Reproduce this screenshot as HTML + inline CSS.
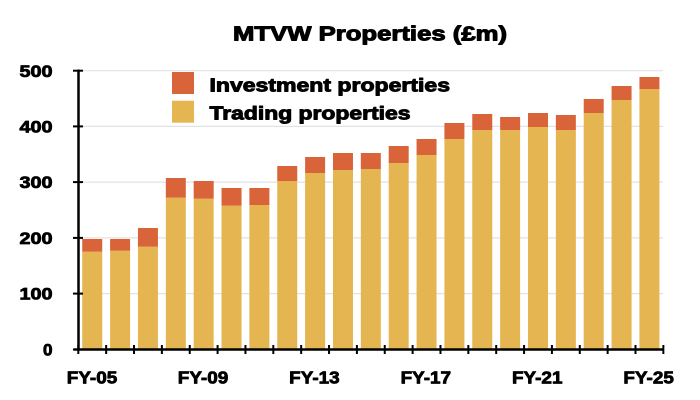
<!DOCTYPE html>
<html><head><meta charset="utf-8">
<style>
html,body{margin:0;padding:0;background:#fff;}
svg{display:block;}
text{font-family:"Liberation Sans",Arial,sans-serif;font-weight:bold;fill:#000;stroke:#000;stroke-width:0.8px;stroke-linejoin:round;}
</style></head>
<body>
<svg width="700" height="400" viewBox="0 0 700 400" xmlns="http://www.w3.org/2000/svg">
<rect width="700" height="400" fill="#fff"/>
<!-- gridlines -->
<g stroke="#e2e2e2" stroke-width="1.2">
<line x1="78" y1="70.7" x2="663" y2="70.7"/>
<line x1="78" y1="126.4" x2="663" y2="126.4"/>
<line x1="78" y1="182.1" x2="663" y2="182.1"/>
<line x1="78" y1="237.9" x2="663" y2="237.9"/>
<line x1="78" y1="293.6" x2="663" y2="293.6"/>
</g>
<!-- title -->
<text x="233" y="40.5" font-size="20" textLength="274" lengthAdjust="spacingAndGlyphs" style="stroke-width:1px">MTVW Properties (£m)</text>
<!-- bars -->
<g id="bars"></g>
<!-- legend -->
<rect x="172" y="72" width="22" height="22" fill="#DA6439"/>
<rect x="172" y="100.7" width="22" height="22" fill="#E4B550"/>
<text x="209.5" y="91.7" font-size="18.5" textLength="240.5" lengthAdjust="spacingAndGlyphs" style="stroke-width:0.95px">Investment properties</text>
<text x="209.5" y="119.5" font-size="18.5" textLength="201" lengthAdjust="spacingAndGlyphs" style="stroke-width:0.95px">Trading properties</text>
<!-- axes -->
<g stroke="#000" stroke-width="2.5">
<line x1="78.5" y1="69.5" x2="78.5" y2="350.5"/>
<line x1="74" y1="349.5" x2="663" y2="349.5"/>
</g>
<g id="ticks" stroke="#000" stroke-width="2"></g>
<!-- y labels -->
<g font-size="16.8" text-anchor="end">
<text x="52.5" y="77" textLength="33" lengthAdjust="spacingAndGlyphs">500</text>
<text x="52.5" y="132.5" textLength="33" lengthAdjust="spacingAndGlyphs">400</text>
<text x="52.5" y="188.2" textLength="33" lengthAdjust="spacingAndGlyphs">300</text>
<text x="52.5" y="244" textLength="33" lengthAdjust="spacingAndGlyphs">200</text>
<text x="52.5" y="299.7" textLength="33" lengthAdjust="spacingAndGlyphs">100</text>
<text x="52.5" y="355.5" textLength="9.5" lengthAdjust="spacingAndGlyphs">0</text>
</g>
<!-- x labels -->
<g font-size="17.5">
<text x="66.8" y="383.3" textLength="50.5" lengthAdjust="spacingAndGlyphs">FY-05</text>
<text x="177.8" y="383.3" textLength="50.5" lengthAdjust="spacingAndGlyphs">FY-09</text>
<text x="289.2" y="383.3" textLength="50.5" lengthAdjust="spacingAndGlyphs">FY-13</text>
<text x="400.6" y="383.3" textLength="50.5" lengthAdjust="spacingAndGlyphs">FY-17</text>
<text x="512" y="383.3" textLength="50.5" lengthAdjust="spacingAndGlyphs">FY-21</text>
<text x="623.4" y="383.3" textLength="50.5" lengthAdjust="spacingAndGlyphs">FY-25</text>
</g>
</svg>
<script>
(function(){
var ns="http://www.w3.org/2000/svg";
var tot=[239,239,228,178,181,188,188,166,157,153,153,146,139,123,114,117,113,115,99,86,77];
var tr=[251.7,250.7,246.7,197.7,198.7,205.7,205,181,173,170,169,163,155,139,130,130,127,130,113,100,89];
var g=document.getElementById("bars");
for(var i=0;i<21;i++){
  var x=78.3+27.86*i+3.93;
  var r1=document.createElementNS(ns,"rect");
  r1.setAttribute("x",x);r1.setAttribute("y",tr[i]);r1.setAttribute("width",20);r1.setAttribute("height",349.5-tr[i]);r1.setAttribute("fill","#E4B550");
  g.appendChild(r1);
  var r2=document.createElementNS(ns,"rect");
  r2.setAttribute("x",x);r2.setAttribute("y",tot[i]);r2.setAttribute("width",20);r2.setAttribute("height",tr[i]-tot[i]);r2.setAttribute("fill","#DA6439");
  g.appendChild(r2);
}
var t=document.getElementById("ticks");
for(var k=0;k<=21;k++){
  var xx=78.3+27.86*k;
  var l=document.createElementNS(ns,"line");
  l.setAttribute("x1",xx);l.setAttribute("x2",xx);l.setAttribute("y1",345);l.setAttribute("y2",354);
  t.appendChild(l);
}
var ys=[70.7,126.4,182.1,237.9,293.6,349.5];
for(var j=0;j<ys.length;j++){
  var l2=document.createElementNS(ns,"line");
  l2.setAttribute("x1",73);l2.setAttribute("x2",83);l2.setAttribute("y1",ys[j]);l2.setAttribute("y2",ys[j]);
  t.appendChild(l2);
}
})();
</script>
</body></html>
